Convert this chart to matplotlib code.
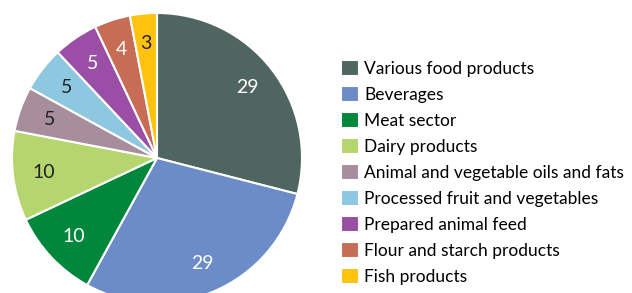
import matplotlib
matplotlib.use("Agg")
import matplotlib.pyplot as plt

categories = ["Various food products", "Beverages", "Meat sector", "Dairy products",
              "Animal and vegetable oils and fats", "Processed fruit and vegetables",
              "Prepared animal feed", "Flour and starch products", "Fish products"]
values = [29, 29, 10, 10, 5, 5, 5, 4, 3]
colors = ["#4f6660", "#6b8cc7", "#00873c", "#b5d56f", "#a88e9c",
          "#8ec7e0", "#9b4ea6", "#c76c55", "#ffc20e"]
label_colors = ["white", "white", "white", "#222222", "#222222",
                "#222222", "white", "white", "#222222"]

plt.rcParams['font.family'] = ['Lato', 'DejaVu Sans']

fig = plt.figure(figsize=(6.32, 2.93), dpi=100)
# pie axes: centre at (157, 158) px from top-left, radius 145 px
ax = fig.add_axes([12 / 632, -10 / 293, 290 / 632, 290 / 293])

wedges, texts, autotexts = ax.pie(
    values, colors=colors, startangle=90, counterclock=False,
    autopct=lambda p: "%d" % round(p), pctdistance=0.79,
    wedgeprops=dict(edgecolor="white", linewidth=1.5))
for t, c in zip(autotexts, label_colors):
    t.set_color(c)
    t.set_fontsize(14)
ax.set_xlim(-1, 1)
ax.set_ylim(-1, 1)
ax.set_aspect("equal")

fig.legend(wedges, categories, loc="upper left",
           bbox_to_anchor=(341 / 632, 1 - 60 / 293), frameon=False,
           fontsize=12.5, handlelength=1.05, handleheight=1.05,
           labelspacing=0.52, handletextpad=0.3, borderaxespad=0,
           borderpad=0)

fig.savefig("out.png", dpi=100)
